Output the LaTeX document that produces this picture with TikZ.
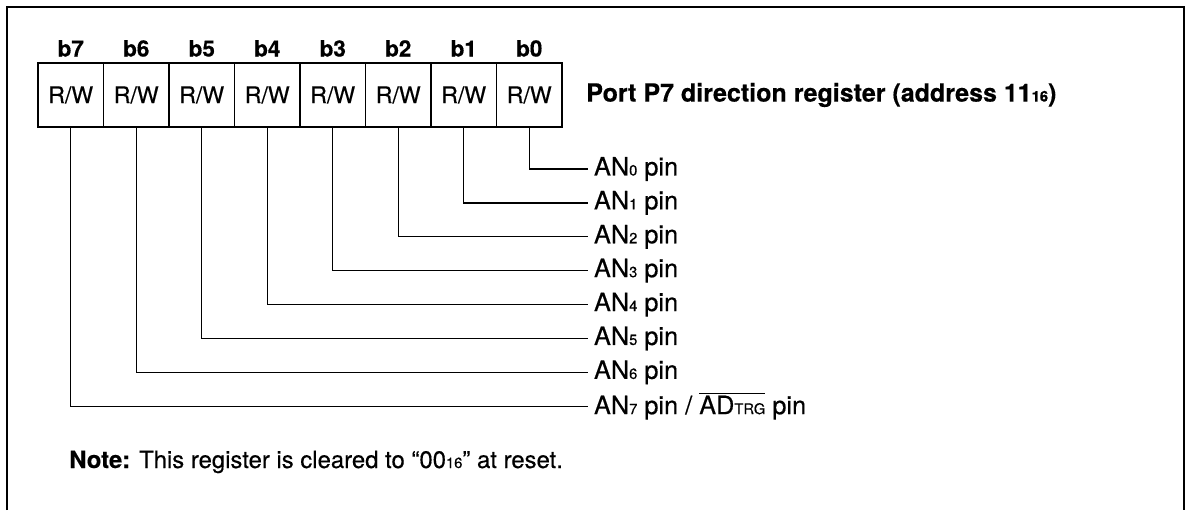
\documentclass[tikz,border=0pt]{standalone}
\usepackage{fontspec}
\setmainfont[FakeBold=0.4]{TeX Gyre Heros}
\usetikzlibrary{positioning}

\newcommand{\sbs}[1]{{\fontsize{10.5}{10.5}\selectfont #1}}
\newcommand{\ovl}[1]{$\overline{\hbox{#1}}$}

\begin{document}
\begin{tikzpicture}[
    cell/.style={draw, line width=1.2pt, outer sep=0pt, inner sep=0pt,
        minimum width=1.6375cm, minimum height=1.6cm, font=\fontsize{16.4}{18}\selectfont},
    bitlbl/.style={inner sep=0pt, font=\fontsize{16}{18}\selectfont\bfseries},
    pinlbl/.style={anchor=west, outer sep=0pt, inner xsep=0.15cm, inner ysep=0pt,
        font=\fontsize{18}{20}\selectfont},
    wire/.style={line width=0.9pt}
]
    \useasboundingbox (0,0) rectangle (29.775,12.75);
    % frame, open at the bottom
    \draw[line width=1.9pt] (0.175,0) -- (0.175,12.575) -- (29.6,12.575) -- (29.6,0);

    % register cells
    \node[cell] (c7) at (1.769,10.375) {R/W};
    \node[cell, right=0pt of c7] (c6) {R/W};
    \node[cell, right=0pt of c6] (c5) {R/W};
    \node[cell, right=0pt of c5] (c4) {R/W};
    \node[cell, right=0pt of c4] (c3) {R/W};
    \node[cell, right=0pt of c3] (c2) {R/W};
    \node[cell, right=0pt of c2] (c1) {R/W};
    \node[cell, right=0pt of c1] (c0) {R/W};

    \node[bitlbl, above=0.15cm of c7] (b7) {b7};
    \node[bitlbl, above=0.15cm of c6] (b6) {b6};
    \node[bitlbl, above=0.15cm of c5] (b5) {b5};
    \node[bitlbl, above=0.15cm of c4] (b4) {b4};
    \node[bitlbl, above=0.15cm of c3] (b3) {b3};
    \node[bitlbl, above=0.15cm of c2] (b2) {b2};
    \node[bitlbl, above=0.15cm of c1] (b1) {b1};
    \node[bitlbl, above=0.15cm of c0] (b0) {b0};

    \node[right=0.6cm of c0, inner sep=0pt, font=\fontsize{17.8}{20}\selectfont\bfseries] (ttl)
        {Port P7 direction register (address 11\sbs{16})};

    % pin names
    \node[pinlbl] (an0) at (14.7,8.525) {AN\sbs{0} pin};
    \node[pinlbl] (an1) at (14.7,7.6775) {AN\sbs{1} pin};
    \node[pinlbl] (an2) at (14.7,6.83) {AN\sbs{2} pin};
    \node[pinlbl] (an3) at (14.7,5.9825) {AN\sbs{3} pin};
    \node[pinlbl] (an4) at (14.7,5.135) {AN\sbs{4} pin};
    \node[pinlbl] (an5) at (14.7,4.2875) {AN\sbs{5} pin};
    \node[pinlbl] (an6) at (14.7,3.44) {AN\sbs{6} pin};
    \node[pinlbl] (an7) at (14.7,2.5925) {AN\sbs{7} pin / \ovl{AD\sbs{TRG}} pin};

    \draw[wire] (c0.south) |- (an0.west);
    \draw[wire] (c1.south) |- (an1.west);
    \draw[wire] (c2.south) |- (an2.west);
    \draw[wire] (c3.south) |- (an3.west);
    \draw[wire] (c4.south) |- (an4.west);
    \draw[wire] (c5.south) |- (an5.west);
    \draw[wire] (c6.south) |- (an6.west);
    \draw[wire] (c7.south) |- (an7.west);

    \node[anchor=base west, inner sep=0pt, font=\fontsize{17}{20}\selectfont] (note) at (1.725,1.05)
        {\textbf{Note:} This register is cleared to “00\sbs{16}” at reset.};
\end{tikzpicture}
\end{document}
